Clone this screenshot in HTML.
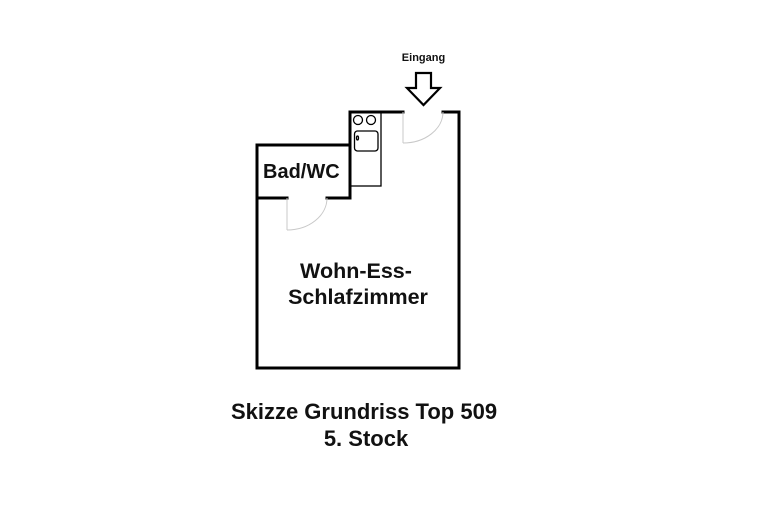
<!DOCTYPE html>
<html><head><style>html,body{margin:0;padding:0;background:#fff;width:770px;height:532px;overflow:hidden}</style></head>
<body>
<svg width="770" height="532" viewBox="0 0 770 532" xmlns="http://www.w3.org/2000/svg" style="display:block">
<g fill="none" stroke="#000" stroke-width="3" stroke-linecap="square">
<polyline points="403,112 350,112 350,198 327,198"/>
<polyline points="443,112 459,112 459,368 257,368 257,145 350,145"/>
<polyline points="257,198 287,198"/>
</g>
<g fill="none" stroke="#000" stroke-width="1.3">
<rect x="350" y="112" width="31" height="74"/>
<circle cx="358" cy="120" r="4.5"/>
<circle cx="371" cy="120" r="4.5"/>
<rect x="354.5" y="131" width="23.5" height="20" rx="3"/>
<ellipse cx="357.5" cy="138" rx="1" ry="2"/>
</g>
<g fill="none" stroke="#c8c8c8" stroke-width="1">
<line x1="403" y1="112" x2="403" y2="143"/>
<path d="M403,143 A40,31 0 0 0 443,112"/>
<line x1="287" y1="198" x2="287" y2="230"/>
<path d="M287,230 A40,32 0 0 0 327,198"/>
</g>
<polygon points="416,73 431,73 431,88 440,88 423.5,105 407,88 416,88" fill="#fff" stroke="#000" stroke-width="2.2" stroke-linejoin="miter"/>
<g font-family="Liberation Sans, sans-serif" font-weight="bold" fill="#111">
<text x="423.5" y="61" font-size="11" text-anchor="middle">Eingang</text>
<text x="263" y="178" font-size="20">Bad/WC</text>
<text x="356" y="278" font-size="21.5" text-anchor="middle">Wohn-Ess-</text>
<text x="358" y="304" font-size="21.5" text-anchor="middle">Schlafzimmer</text>
<text x="364" y="419" font-size="22" text-anchor="middle">Skizze Grundriss Top 509</text>
<text x="366" y="446" font-size="22" text-anchor="middle">5. Stock</text>
</g>
</svg>
</body></html>
